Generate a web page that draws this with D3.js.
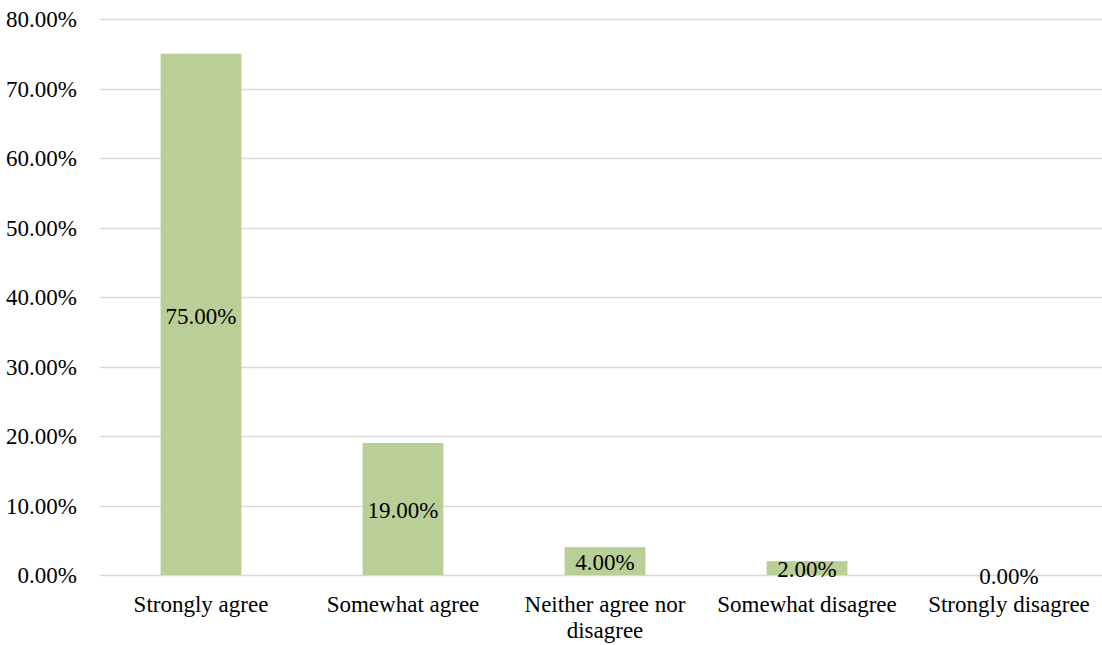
<!DOCTYPE html>
<html>
<head>
<meta charset="utf-8">
<script src="https://cdn.jsdelivr.net/npm/d3@7"></script>
<style>
  html, body { margin: 0; padding: 0; background: #fff; }
  svg { display: block; }
  text { font-family: "Liberation Serif", "Times New Roman", serif; fill: #000; }
</style>
</head>
<body>
<svg id="chart" width="1102" height="645"></svg>
<script>
// Survey responses (share of respondents, %)
const categories = ["Strongly agree", "Somewhat agree", "Neither agree nor disagree", "Somewhat disagree", "Strongly disagree"];
const categoryLines = [["Strongly agree"], ["Somewhat agree"], ["Neither agree nor", "disagree"], ["Somewhat disagree"], ["Strongly disagree"]];
const values = [75, 19, 4, 2, 0];
const yTicks = [0, 10, 20, 30, 40, 50, 60, 70, 80];

const svg = d3.select("#chart");
const fontSize = 23;

const x = d3.scaleBand()
  .domain(categories)
  .range([100, 1110])
  .paddingInner(0.6)
  .paddingOuter(0.3);

const y = d3.scaleLinear()
  .domain([0, 80])
  .range([575, 19]);

const fmt = v => v.toFixed(2) + "%";

// Horizontal gridlines
svg.append("g")
  .selectAll("line")
  .data(yTicks)
  .join("line")
  .attr("x1", 100)
  .attr("x2", 1102)
  .attr("y1", d => Math.round(y(d)) + 0.5)
  .attr("y2", d => Math.round(y(d)) + 0.5)
  .attr("stroke", "#d9d9d9")
  .attr("stroke-width", 1.5);

// Y axis labels
svg.append("g")
  .selectAll("text")
  .data(yTicks)
  .join("text")
  .attr("x", 77)
  .attr("y", d => y(d))
  .attr("dy", "0.35em")
  .attr("text-anchor", "end")
  .style("font-size", fontSize + "px")
  .text(d => fmt(d));

// Bars
svg.append("g")
  .selectAll("rect")
  .data(values)
  .join("rect")
  .attr("x", (d, i) => x(categories[i]))
  .attr("width", x.bandwidth())
  .attr("y", d => y(d))
  .attr("height", d => y(0) - y(d))
  .attr("fill", "#bacf97");

// Value labels centred on each bar
svg.append("g")
  .selectAll("text")
  .data(values)
  .join("text")
  .attr("x", (d, i) => x(categories[i]) + x.bandwidth() / 2)
  .attr("y", d => (y(d) + y(0)) / 2)
  .attr("dy", "0.4em")
  .attr("text-anchor", "middle")
  .style("font-size", fontSize + "px")
  .text(d => fmt(d));

// Category labels
const cat = svg.append("g")
  .selectAll("text")
  .data(categories)
  .join("text")
  .attr("x", d => x(d) + x.bandwidth() / 2)
  .attr("y", 612)
  .attr("text-anchor", "middle")
  .style("font-size", fontSize + "px");

cat.selectAll("tspan")
  .data((d, i) => categoryLines[i])
  .join("tspan")
  .attr("x", function() { return d3.select(this.parentNode).attr("x"); })
  .attr("dy", (d, i) => i === 0 ? 0 : 26)
  .text(d => d);
</script>
</body>
</html>
